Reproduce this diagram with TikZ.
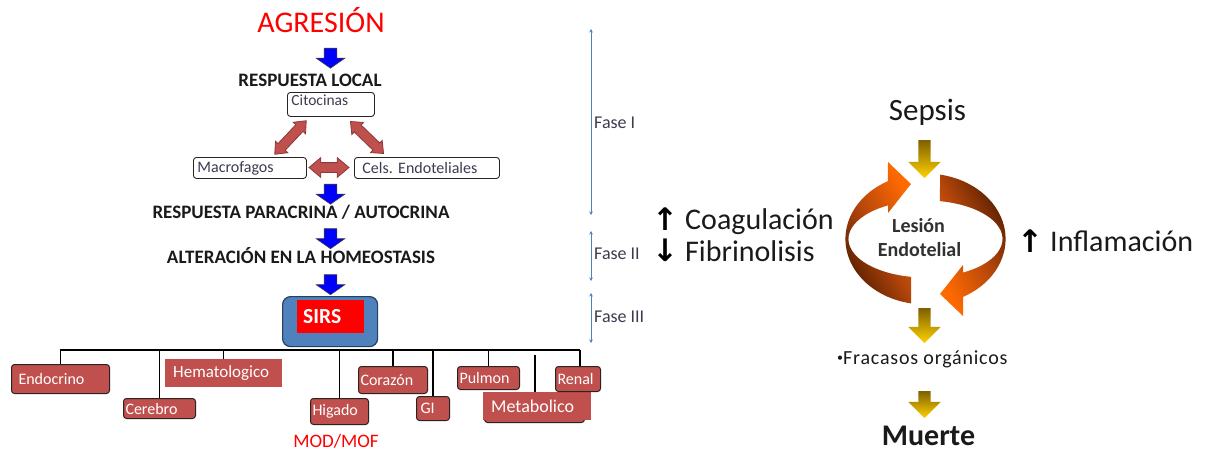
\documentclass[tikz,border=0pt]{standalone}
\usepackage{fontspec}
\setmainfont{Carlito}
\newfontfamily\arrowfont{DejaVu Sans}
\usetikzlibrary{shapes.arrows,arrows.meta}

\definecolor{organred}{HTML}{C0504D}
\definecolor{organedge}{HTML}{2B2222}
\definecolor{flowblue}{HTML}{0000FF}
\definecolor{phaseblue}{HTML}{4F81BD}
\definecolor{sirsblue}{HTML}{4F81BD}
\definecolor{sirsedge}{HTML}{24405F}
\definecolor{linkred}{HTML}{C0504D}
\definecolor{linkedge}{HTML}{8C3836}
\definecolor{golddark}{HTML}{7F6000}
\definecolor{goldlight}{HTML}{FFD200}
\definecolor{ringdark}{HTML}{4A1800}
\definecolor{ringmid}{HTML}{B4460A}
\definecolor{ringlight}{HTML}{FF6A00}
\definecolor{ink}{HTML}{1A1A1A}
\definecolor{softink}{HTML}{3C3C50}

\newcommand\fsz[1]{\fontsize{#1}{#1}\selectfont}

\begin{document}
\begin{tikzpicture}[x=1pt,y=-1pt,
  title/.style={font=\fsz{19}\bfseries, text=ink, inner sep=0pt, anchor=base},
  whitebox/.style={draw=organedge, fill=white, line width=0.9pt, rounded corners=3pt,
    anchor=north west, align=left, text=softink, font=\fsz{15.5}, inner xsep=4pt, inner ysep=0pt},
  orgbox/.style={draw=organedge, fill=organred, line width=1pt, rounded corners=3pt,
    anchor=north west, align=left, text=white, font=\fsz{16}, inner ysep=0pt},
  flatbox/.style={fill=organred, anchor=north west, align=left, text=white, inner ysep=0pt},
  bluearrow/.style={shape=single arrow, rotate=-90, fill=flowblue, draw=black!75, line width=0.6pt,
    inner xsep=0pt, inner ysep=6pt, minimum height=20pt, minimum width=28pt,
    single arrow head extend=8pt, single arrow tip angle=110, single arrow head indent=0pt},
  goldarrow/.style={shape=single arrow, rotate=-90, top color=golddark, bottom color=goldlight,
    draw=none, inner xsep=0pt, inner ysep=6pt, minimum width=32pt,
    single arrow head extend=10pt, single arrow tip angle=90, single arrow head indent=0pt},
  linkarrow/.style={shape=double arrow, fill=linkred, draw=linkedge, line width=0.8pt,
    inner xsep=0pt, inner ysep=4.5pt, minimum width=16pt,
    double arrow head extend=3.5pt, double arrow tip angle=80, double arrow head indent=0pt},
  tree/.style={draw=black, line width=1.1pt},
  phase/.style={draw=phaseblue, line width=1pt, {Stealth[length=3.5pt,width=3.5pt]}-{Stealth[length=3.5pt,width=3.5pt]}},
  phaselabel/.style={font=\fsz{18}, text=softink, anchor=base west, inner sep=0pt},
  bigtext/.style={font=\fsz{30}, text=ink, anchor=base west, inner sep=0pt},
  updown/.style={font=\arrowfont\bfseries\fsz{31}, text=black, anchor=base, inner sep=0pt}
]
\useasboundingbox (0,0) rectangle (1205,452);
\fill[white] (0,0) rectangle (1205,452);

% ---------- left flow ----------
\node[font=\fsz{30}, text=red, inner sep=0pt, anchor=base] (agr) at (321,33) {AGRESIÓN};
\node[bluearrow] (b1) at (330.5,56) {};
\node[title] (local) at (310,87) {RESPUESTA LOCAL};

\node[whitebox, minimum width=87pt, minimum height=24pt, text width=79pt, text depth=9pt] (cito) at (287,92) {Citocinas};
\node[whitebox, minimum width=113pt, minimum height=21pt, text width=105pt, font=\fsz{16}] (macro) at (193,157) {Macrofagos};
\node[whitebox, minimum width=137pt, minimum height=21pt, text width=129pt, font=\fsz{16}, inner xsep=8pt] (cels) at (354,157) {Cels.\ Endoteliales};

\node[linkarrow, minimum height=46pt, rotate=46.8] (l1) at (290.5,137.5) {};
\node[linkarrow, minimum height=46pt, rotate=-44] (l2) at (367,137.5) {};
\node[linkarrow, minimum height=40pt, minimum width=19pt, double arrow head extend=5pt] (l3) at (329,167.5) {};

\node[bluearrow] (b2) at (330.5,192) {};
\node[title] (para) at (301,218) {RESPUESTA PARACRINA / AUTOCRINA};
\node[bluearrow] (b3) at (330.5,236.5) {};
\node[title] (homeo) at (301,263) {ALTERACIÓN EN LA HOMEOSTASIS};
\node[bluearrow] (b4) at (330.5,282.5) {};

% SIRS block
\node[draw=sirsedge, fill=sirsblue, line width=1.2pt, rounded corners=8pt,
      minimum width=95pt, minimum height=50pt, anchor=north west, inner sep=0pt] (sirs) at (282,296) {};
\node[fill=red, minimum width=67pt, minimum height=33pt, anchor=north west, inner sep=0pt] (sirsin) at (297,300) {};
\node[font=\fsz{21.5}\bfseries, text=white, anchor=base west, inner sep=0pt] (sirstxt) at (303,323) {SIRS};

% organ boxes
\node[orgbox, minimum width=98pt, minimum height=29pt, inner xsep=7pt, text width=84pt] (endo) at (11,364) {Endocrino};
\node[orgbox, minimum width=72pt, minimum height=20pt, inner xsep=2pt, text width=68pt] (cere) at (123,398) {Cerebro};
\node[flatbox, minimum width=117pt, minimum height=28pt, inner xsep=8pt, text width=101pt, font=\fsz{17}] (hema) at (165,359) {Hematologico};
\node[orgbox, minimum width=58pt, minimum height=26pt, inner xsep=2pt, text width=54pt] (higa) at (310,398) {Higado};
\node[orgbox, minimum width=69pt, minimum height=27pt, inner xsep=2pt, text width=65pt] (cora) at (358,366) {Corazón};
\node[orgbox, minimum width=33pt, minimum height=24pt, inner xsep=4pt, text width=25pt] (gi) at (416,396) {GI};
\node[orgbox, minimum width=62pt, minimum height=23pt, inner xsep=2pt, text width=58pt] (pulm) at (457,366) {Pulmon};
\node[draw=organedge, fill=organred, line width=1pt, rounded corners=3pt, minimum width=100pt,
      minimum height=28pt, anchor=north west, inner sep=0pt] (metash) at (484,394) {};
\node[flatbox, minimum width=108pt, minimum height=28pt, inner xsep=8pt, text width=92pt, font=\fsz{18}] (meta) at (483,392) {Metabolico};
\node[orgbox, minimum width=45pt, minimum height=25pt, inner xsep=2pt, text width=41pt] (renal) at (555,366) {Renal};

% organ tree
\coordinate (busl) at (60,350);
\coordinate (busr) at (580,350);
\draw[tree] (busl) -- (busr);
\draw[tree] (endo.north) -- (endo.north |- busl);
\draw[tree] (cere.north) -- (cere.north |- busl);
\draw[tree] (hema.north) -- (hema.north |- busl);
\draw[tree] (higa.north) -- (higa.north |- busl);
\draw[tree] (cora.north) -- (cora.north |- busl);
\draw[tree] (gi.north) -- (gi.north |- busl);
\draw[tree] (pulm.north) -- (pulm.north |- busl);
\coordinate (metatop) at (535,355);
\draw[tree] (meta.north -| metatop) -- (metatop);
\draw[tree] (renal.north -| busr) -- (busr);

\node[font=\fsz{19}, text=red, inner sep=0pt, anchor=base] (mod) at (336,447) {MOD/MOF};

% ---------- phases ----------
\coordinate (f1t) at (591,29);  \coordinate (f1b) at (591,215);
\coordinate (f2t) at (591,231); \coordinate (f2b) at (591,281);
\coordinate (f3t) at (591,293); \coordinate (f3b) at (591,343);
\draw[phase] (f1t) -- (f1b);
\draw[phase] (f2t) -- (f2b);
\draw[phase] (f3t) -- (f3b);
\node[phaselabel] (fase1) at (594,128) {Fase I};
\node[phaselabel] (fase2) at (594,259) {Fase II};
\node[phaselabel] (fase3) at (594,322) {Fase III};

% ---------- coagulation ----------
\node[updown] (up1) at (665,230) {↑};
\node[bigtext] (coag) at (685,229) {Coagulación};
\node[updown] (down1) at (665,261) {↓};
\node[bigtext] (fibr) at (685,261) {Fibrinolisis};

% ---------- sepsis cycle ----------
\node[font=\fsz{31}, text=ink, inner sep=0pt, anchor=base] (sepsis) at (927.5,121) {Sepsis};
\node[goldarrow, minimum height=38pt] (g1) at (924.5,156) {};

\begin{scope}[shift={(925.5,239)}, x=1pt, y=1pt]
  % arrow sweeping round the left side, pointing up and right
  \shade[top color=ringlight, bottom color=ringdark, middle color=ringmid, shading angle=-60]
    (-14.5,-64.4) arc[start angle=259.6, end angle=118, x radius=80pt, y radius=65.5pt]
    -- (-37.5,77) -- (-14.5,55) -- (-37.5,26) -- (-37.5,33.6)
    arc[start angle=119.1, end angle=259.2, x radius=77pt, y radius=38.5pt] -- cycle;
  % arrow sweeping round the right side, pointing down and left
  \shade[top color=ringlight, bottom color=ringdark, middle color=ringmid, shading angle=120]
    (14.5,64.4) arc[start angle=79.6, end angle=-62, x radius=80pt, y radius=65.5pt]
    -- (37.5,-77) -- (14.5,-55) -- (37.5,-26) -- (37.5,-33.6)
    arc[start angle=-60.9, end angle=79.2, x radius=77pt, y radius=38.5pt] -- cycle;
\end{scope}

\node[font=\fsz{20}\bfseries, text=ink!90, inner sep=0pt, anchor=base] (les1) at (918.5,232) {Lesión};
\node[font=\fsz{20}\bfseries, text=ink!90, inner sep=0pt, anchor=base] (les2) at (919.5,256) {Endotelial};

\node[updown] (up2) at (1030,252) {↑};
\node[bigtext] (infl) at (1050,251) {Inflamación};

\node[goldarrow, minimum height=35pt] (g2) at (924.5,322.5) {};
\node[font=\fsz{20}\addfontfeature{LetterSpace=4}, text=ink, inner sep=0pt, anchor=base west] (fraca) at (837,364)
  {\raisebox{3pt}{\fsz{12}\textbullet}Fracasos orgánicos};
\node[goldarrow, minimum height=27pt, single arrow head extend=10pt] (g3) at (924.5,401.5) {};
\node[font=\fsz{30}\bfseries, text=ink, inner sep=0pt, anchor=base] (muerte) at (928.5,445) {Muerte};
\end{tikzpicture}
\end{document}
